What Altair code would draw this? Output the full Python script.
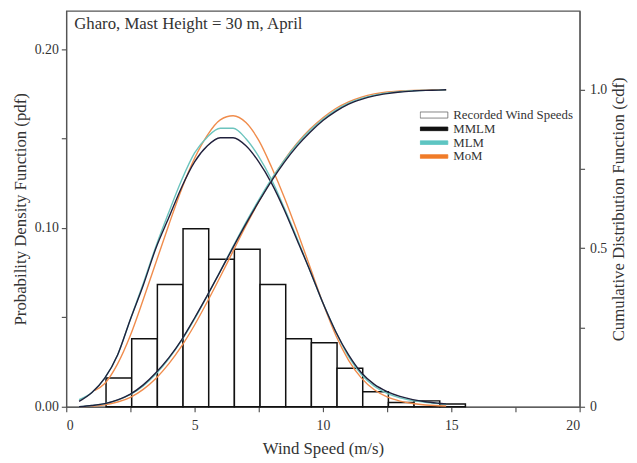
import altair as alt
import pandas as pd

title_text = "Gharo, Mast Height = 30 m, April"
x_title = "Wind Speed (m/s)"
y_title = "Probability Density Function (pdf)"
y2_title = "Cumulative Distribution Function (cdf)"

# Histogram of recorded wind speeds
bin_lo = [1.55, 2.55, 3.55, 4.55, 5.55, 6.55, 7.55, 8.55, 9.55, 10.55, 11.55, 12.55, 13.55, 14.55]
bin_hi = [2.55, 3.55, 4.55, 5.55, 6.55, 7.55, 8.55, 9.55, 10.55, 11.55, 12.55, 13.55, 14.55, 15.55]
hist_pdf = [0.0161, 0.0380, 0.0684, 0.0996, 0.0825, 0.0881, 0.0684, 0.0380, 0.0358, 0.0215,
            0.0084, 0.0024, 0.0033, 0.0015]

# wind speeds for fitted curves
ws = [0.5, 1.0, 1.5, 2.0, 2.5, 3.0, 3.5, 4.0, 4.5, 5.0, 5.5, 6.0, 6.5, 7.0, 7.5, 8.0, 8.5,
      9.0, 9.5, 10.0, 10.5, 11.0, 11.5, 12.0, 12.5, 13.0, 13.5, 14.0, 14.5, 14.8]
ws_mom = [1.1, 1.5, 2.0, 2.5, 3.0, 3.5, 4.0, 4.5, 5.0, 5.5, 6.0, 6.5, 7.0, 7.5, 8.0, 8.5,
          9.0, 9.5, 10.0, 10.5, 11.0, 11.5, 12.0, 12.5, 13.0, 13.5, 14.0, 14.5, 14.8]

pdf_mmlm = [0.003, 0.008, 0.016, 0.029, 0.049, 0.068, 0.089, 0.106, 0.123, 0.137, 0.146, 0.1505,
            0.1505, 0.146, 0.137, 0.125, 0.110, 0.093, 0.076, 0.058, 0.042, 0.029, 0.019, 0.0125,
            0.0085, 0.0058, 0.0040, 0.0028, 0.0020, 0.0016]
pdf_mlm = [0.004, 0.008, 0.016, 0.029, 0.049, 0.069, 0.090, 0.109, 0.127, 0.142, 0.151, 0.1558,
           0.1558, 0.150, 0.140, 0.127, 0.111, 0.094, 0.076, 0.058, 0.042, 0.028, 0.018, 0.0115,
           0.0075, 0.0050, 0.0035, 0.0025, 0.0018, 0.0015]
pdf_mom = [0.009, 0.013, 0.024, 0.040, 0.060, 0.081, 0.102, 0.122, 0.139, 0.152, 0.1605, 0.1628,
           0.159, 0.149, 0.134, 0.117, 0.098, 0.078, 0.058, 0.040, 0.026, 0.016, 0.0095, 0.0055,
           0.0032, 0.0018, 0.0010, 0.0006, 0.0004]

cdf_mmlm = [0.000, 0.004, 0.010, 0.022, 0.040, 0.069, 0.108, 0.155, 0.212, 0.280, 0.352, 0.427,
            0.503, 0.577, 0.647, 0.713, 0.772, 0.823, 0.866, 0.903, 0.932, 0.955, 0.970, 0.981,
            0.988, 0.993, 0.996, 0.998, 0.999, 1.000]
cdf_mlm = [0.000, 0.004, 0.010, 0.021, 0.039, 0.066, 0.104, 0.152, 0.210, 0.277, 0.351, 0.428,
           0.506, 0.582, 0.653, 0.719, 0.778, 0.829, 0.872, 0.907, 0.936, 0.958, 0.973, 0.983,
           0.990, 0.994, 0.997, 0.998, 0.999, 1.000]
cdf_mom = [0.000, 0.002, 0.006, 0.015, 0.030, 0.055, 0.090, 0.136, 0.192, 0.258, 0.332, 0.410,
           0.491, 0.571, 0.647, 0.717, 0.779, 0.832, 0.876, 0.912, 0.941, 0.962, 0.977, 0.987,
           0.993, 0.996, 0.998, 0.999, 1.000, 1.000]

legend_names = ["Recorded Wind Speeds", "MMLM", "MLM", "MoM"]
legend_colors = ["#ffffff", "#111111", "#5ec5c2", "#f07c28"]
legend_strokes = ["#666666", "#111111", "#5ec5c2", "#f07c28"]
line_colors = {"MMLM": "#20203c", "MLM": "#6cc4be", "MoM": "#f08c4c"}

FONT = "Liberation Serif"

xscale = alt.Scale(domain=[0, 20], nice=False, zero=False)
xaxis = alt.Axis(values=[0, 2.5, 5, 7.5, 10, 12.5, 15, 17.5, 20],
                 labelExpr="datum.value % 5 == 0 ? datum.label : ''",
                 title=x_title, labelPadding=7, titlePadding=8)
yscale = alt.Scale(domain=[0, 0.2215], nice=False)
yaxis = alt.Axis(values=[0, 0.05, 0.1, 0.15, 0.2], format=".2f",
                 labelExpr="(round(datum.value*100) % 10 == 0) ? datum.label : ''",
                 title=y_title, labelPadding=3, titlePadding=5)
y2scale = alt.Scale(domain=[0, 1.249], nice=False)
y2axis = alt.Axis(orient="right", values=[0, 0.25, 0.5, 0.75, 1.0],
                  labelExpr="datum.value == 0 ? '0' : (datum.value == 0.5 ? '0.5' : (datum.value == 1 ? '1.0' : ''))",
                  title=y2_title, titleAngle=270, titleBaseline="top", labelPadding=5, titlePadding=4)

hist_df = pd.DataFrame({"lo": bin_lo, "hi": bin_hi, "pdf": hist_pdf})
bars = alt.Chart(hist_df).mark_rect(fill="white", stroke="#111111", strokeWidth=1.5).encode(
    x=alt.X("lo:Q", scale=xscale, axis=xaxis),
    x2="hi:Q",
    y=alt.Y("pdf:Q", scale=yscale, axis=yaxis),
    y2=alt.datum(0),
)


def curve(xs, ys, field, color, scale, axis):
    df = pd.DataFrame({"ws": xs, field: ys})
    return alt.Chart(df).mark_line(color=color, strokeWidth=1.4, interpolate="monotone").encode(
        x=alt.X("ws:Q", scale=xscale, axis=xaxis),
        y=alt.Y(f"{field}:Q", scale=scale, axis=axis),
    )


leg_df = pd.DataFrame({"name": legend_names, "ws": [None] * 4, "pdf": [None] * 4})
rect_path = "M-1,-0.22L1,-0.22L1,0.22L-1,0.22Z"
bar_path = "M-1,-0.13L1,-0.13L1,0.13L-1,0.13Z"
leg = alt.Legend(title=None, orient="none", legendX=358, legendY=99, padding=0,
                 clipHeight=13, rowPadding=0, labelOffset=5, symbolSize=784,
                 symbolStrokeWidth=0.8,
                 labelFont=FONT, labelFontSize=13, labelColor="#333333", labelLimit=300)
legend_layer = alt.Chart(leg_df).mark_point(filled=True, opacity=1, size=784, strokeWidth=0.8).encode(
    x=alt.X("ws:Q", scale=xscale, axis=xaxis),
    y=alt.Y("pdf:Q", scale=yscale, axis=yaxis),
    fill=alt.Fill("name:N", scale=alt.Scale(domain=legend_names, range=legend_colors), legend=leg),
    stroke=alt.Stroke("name:N", scale=alt.Scale(domain=legend_names, range=legend_strokes), legend=leg),
    shape=alt.Shape("name:N", scale=alt.Scale(domain=legend_names,
                                              range=[rect_path, bar_path, bar_path, bar_path]), legend=leg),
)

pdf_group = alt.layer(
    bars,
    curve(ws_mom, pdf_mom, "pdf", line_colors["MoM"], yscale, yaxis),
    curve(ws, pdf_mlm, "pdf", line_colors["MLM"], yscale, yaxis),
    curve(ws, pdf_mmlm, "pdf", line_colors["MMLM"], yscale, yaxis),
    legend_layer,
)
cdf_group = alt.layer(
    curve(ws, cdf_mom, "cdf", line_colors["MoM"], y2scale, y2axis),
    curve(ws, cdf_mlm, "cdf", line_colors["MLM"], y2scale, y2axis),
    curve(ws, cdf_mmlm, "cdf", line_colors["MMLM"], y2scale, y2axis),
)

chart = alt.layer(pdf_group, cdf_group).resolve_scale(y="independent").properties(
    width=520, height=401,
    autosize=alt.AutoSizeParams(type="none"),
    padding={"left": 59, "top": 0, "right": 50, "bottom": 50},
    title=alt.TitleParams(title_text, anchor="start", frame="group", dx=8, dy=26,
                          font=FONT, fontSize=17, fontWeight="normal", color="#333333"),
).configure_view(stroke="#555555", strokeWidth=1.2).configure_axis(
    domainColor="#555555", tickColor="#555555", labelColor="#333333", titleColor="#333333",
    labelFont=FONT, titleFont=FONT, labelFontSize=14, titleFontSize=17, titleFontWeight="normal",
    grid=False, tickSize=5, domainWidth=1.2, tickWidth=1.2,
)

chart.save("out.html", embed_options={"renderer": "svg", "actions": False})
